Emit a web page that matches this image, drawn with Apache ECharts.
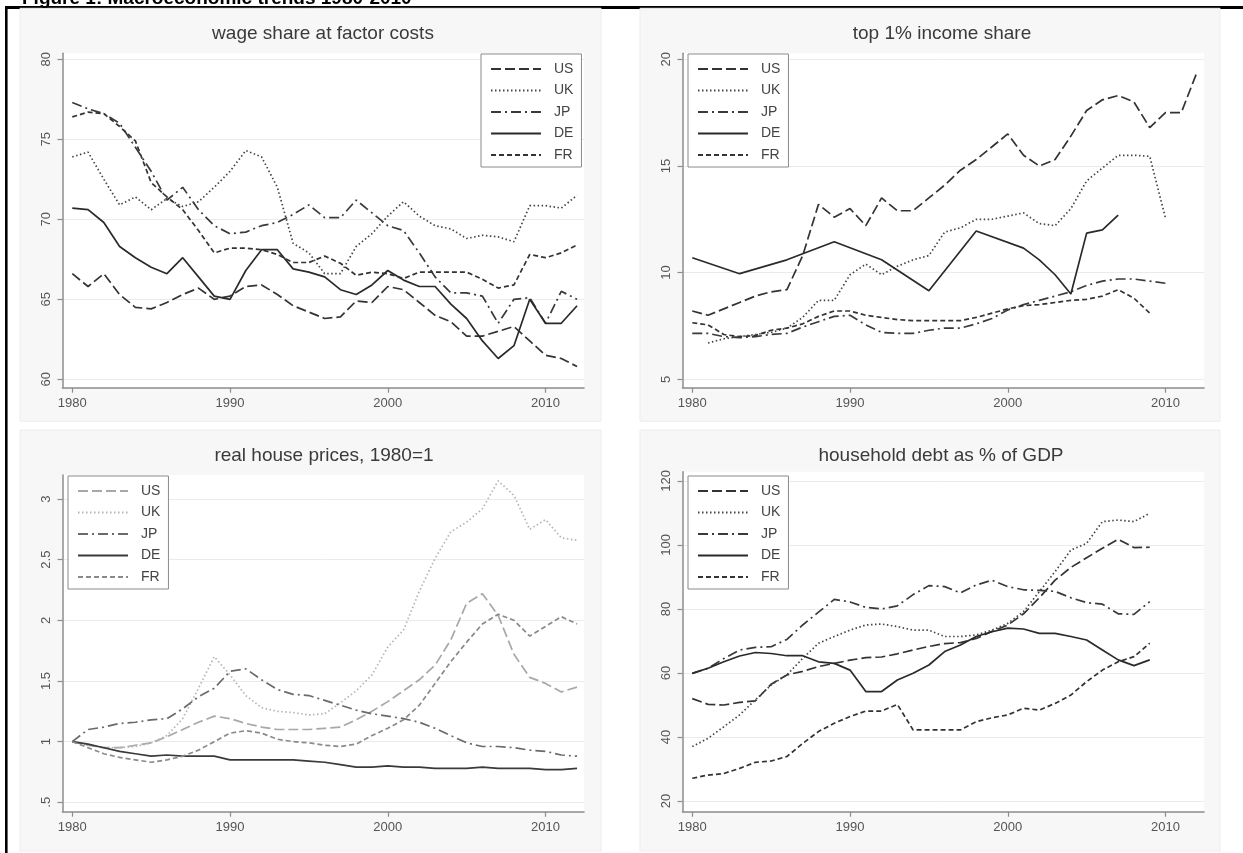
<!DOCTYPE html>
<html>
<head>
<meta charset="utf-8">
<script src="https://cdn.jsdelivr.net/npm/echarts@6/dist/echarts.min.js"></script>
<style>
html,body{margin:0;padding:0;background:#ffffff;}
#c{width:1243px;height:853px;}
</style>
</head>
<body>
<div id="c"></div>
<script>
// ---------------- data ----------------
const years = [1980,1981,1982,1983,1984,1985,1986,1987,1988,1989,1990,1991,1992,1993,1994,1995,1996,1997,1998,1999,2000,2001,2002,2003,2004,2005,2006,2007,2008,2009,2010,2011,2012];
const countries = ['US','UK','JP','DE','FR'];
const xTicks = [1980,1990,2000,2010];

// wage share at factor costs
const wageUS = [66.6,65.8,66.6,65.3,64.5,64.4,64.8,65.3,65.7,65.0,65.2,65.8,65.9,65.3,64.6,64.2,63.8,63.9,64.9,64.8,65.8,65.6,64.8,64.0,63.6,62.7,62.7,63.0,63.3,62.4,61.5,61.3,60.8];
const wageUK = [73.9,74.2,72.5,70.9,71.4,70.6,71.3,70.8,71.1,72.0,73.0,74.3,73.9,72.0,68.5,67.9,66.6,66.6,68.3,69.1,70.2,71.1,70.2,69.6,69.4,68.8,69.0,68.9,68.6,70.85,70.85,70.7,71.5];
const wageJP = [77.3,76.9,76.6,76.0,74.5,73.0,71.2,72.0,70.6,69.6,69.1,69.2,69.6,69.8,70.3,70.9,70.1,70.1,71.2,70.4,69.6,69.3,67.9,66.4,65.4,65.4,65.2,63.5,65.0,65.1,63.5,65.5,65.0];
const wageDE = [70.7,70.6,69.8,68.3,67.6,67.0,66.6,67.6,66.4,65.2,65.0,66.8,68.1,68.1,66.9,66.7,66.4,65.6,65.3,65.9,66.8,66.2,65.8,65.8,64.7,63.8,62.4,61.3,62.1,65.0,63.5,63.5,64.6];
const wageFR = [76.4,76.7,76.6,75.8,74.9,72.3,71.4,70.6,69.3,67.9,68.2,68.2,68.1,67.8,67.3,67.3,67.7,67.25,66.5,66.7,66.6,66.3,66.7,66.7,66.7,66.7,66.25,65.7,65.9,67.8,67.6,67.9,68.4];
const wageTicks = [60,65,70,75,80];

// top 1% income share
const topUS = [8.2,8.0,8.3,8.6,8.9,9.1,9.2,10.8,13.2,12.6,13.0,12.2,13.5,12.9,12.9,13.5,14.1,14.8,15.3,15.9,16.5,15.5,15.0,15.3,16.4,17.6,18.1,18.3,18.0,16.8,17.5,17.5,19.4];
const topUK = [null,6.7,6.9,7.0,7.1,7.2,7.4,7.9,8.7,8.7,9.9,10.4,9.9,10.3,10.6,10.8,11.9,12.1,12.5,12.5,12.65,12.8,12.3,12.2,13.0,14.3,14.9,15.5,15.5,15.45,12.55,null,null];
const topJP = [7.15,7.15,7.0,6.95,7.0,7.1,7.15,7.45,7.7,7.95,8.0,7.55,7.2,7.15,7.15,7.3,7.4,7.4,7.6,7.85,8.25,8.5,8.7,8.9,9.1,9.4,9.6,9.7,9.7,9.6,9.5,null,null];
const topDE = [10.7,null,null,9.95,null,null,10.6,null,null,11.45,null,null,10.6,null,null,9.15,null,null,11.95,null,null,11.15,10.6,9.9,9.0,11.85,12.0,12.7,null,null,null,null,null];
const topFR = [7.65,7.55,7.1,7.0,7.05,7.3,7.4,7.6,7.95,8.2,8.2,8.0,7.9,7.8,7.75,7.75,7.75,7.75,7.9,8.1,8.3,8.45,8.5,8.6,8.7,8.75,8.9,9.2,8.8,8.1,null,null,null];
const topTicks = [5,10,15,20];

// real house prices, 1980=1
const hpUS = [1.0,0.97,0.95,0.95,0.97,0.99,1.04,1.10,1.16,1.21,1.19,1.15,1.12,1.10,1.10,1.10,1.11,1.12,1.18,1.25,1.33,1.42,1.51,1.63,1.84,2.14,2.22,2.04,1.72,1.53,1.48,1.41,1.45];
const hpUK = [1.0,0.97,0.95,0.95,0.96,0.99,1.05,1.19,1.44,1.70,1.55,1.38,1.28,1.25,1.24,1.22,1.23,1.32,1.42,1.55,1.78,1.92,2.24,2.51,2.73,2.81,2.92,3.15,3.03,2.75,2.83,2.68,2.66];
const hpJP = [1.0,1.10,1.12,1.15,1.16,1.18,1.19,1.27,1.37,1.44,1.58,1.60,1.51,1.43,1.39,1.38,1.34,1.30,1.26,1.23,1.21,1.19,1.16,1.11,1.05,0.99,0.96,0.96,0.95,0.93,0.92,0.89,0.88];
const hpDE = [1.0,0.98,0.95,0.92,0.90,0.88,0.89,0.88,0.88,0.88,0.85,0.85,0.85,0.85,0.85,0.84,0.83,0.81,0.79,0.79,0.80,0.79,0.79,0.78,0.78,0.78,0.79,0.78,0.78,0.78,0.77,0.77,0.78];
const hpFR = [1.0,0.95,0.90,0.87,0.85,0.83,0.85,0.88,0.93,1.0,1.07,1.09,1.07,1.02,1.00,0.99,0.97,0.96,0.98,1.05,1.11,1.18,1.30,1.48,1.66,1.82,1.97,2.05,2.00,1.87,1.95,2.03,1.97];
const hpTicks = [0.5,1,1.5,2,2.5,3];

// household debt as % of GDP
const hdUS = [52,50.2,50,50.8,51.3,56.5,59.4,60.5,62,63,64,64.8,65,66,67.2,68.3,69.2,69.5,70.8,73,75,78.5,83.5,89,93,96,99,101.8,99.2,99.3,null,null,null];
const hdUK = [37,39.6,43.2,46.9,51.6,56.3,59.4,64.6,69.3,71.4,73.4,75,75.3,74.5,73.4,73.4,71.4,71.4,71.9,73.4,75.5,79.2,85.4,91.7,98.4,100.5,107.3,107.8,107.3,109.9,null,null,null];
const hdJP = [59.9,61.5,64.5,67.2,68,68.2,70.5,75,79,83,82.2,80.5,80,81,84.5,87.3,87,85,87.5,89,87,86,85.8,85.5,83.5,82,81.5,78.5,78.3,82.3,null,null,null];
const hdDE = [59.9,61.5,63.5,65.3,66.4,66.1,65.4,65.4,63.5,63,60.9,54.2,54.2,57.8,59.9,62.5,66.7,68.75,71.4,72.9,74,73.75,72.4,72.4,71.4,70.3,67.2,64.1,62.3,64.1,null,null,null];
const hdFR = [27.1,28.1,28.6,30.2,32.1,32.5,33.9,38,41.7,44.3,46.4,48.1,48.1,50.2,42.2,42.2,42.2,42.2,44.8,46,46.9,49,48.4,50.5,53.1,57.3,60.9,63.5,65.1,69.3,null,null,null];
const hdTicks = [20,40,60,80,100,120];

const titles = ['wage share at factor costs','top 1% income share','real house prices, 1980=1','household debt as % of GDP'];
const figureTitle = 'Figure 1: Macroeconomic trends 1980-2010';

// ---------------- styling / layout ----------------
const FONT = 'Liberation Sans, Arial, sans-serif';
const dashes = {US:[10,4], UK:[1.5,2.5], JP:[10,4,2,4], DE:'solid', FR:[5,3]};
const darkColors = {US:'#333333', UK:'#444444', JP:'#3a3a3a', DE:'#2a2a2a', FR:'#333333'};
const lightColors = {US:'#a8a8a8', UK:'#b4b4b4', JP:'#6a6a6a', DE:'#3a3a3a', FR:'#8a8a8a'};

const panels = [
  {key:'a', values:{US:wageUS,UK:wageUK,JP:wageJP,DE:wageDE,FR:wageFR}, ticks:wageTicks, colors:darkColors,
   grid:{left:62.5, top:53.3, width:521.5, height:334.4}, ymin:59.475, ymax:80.375, tx:323, ty:35, lg:{left:481, top:54}},
  {key:'b', values:{US:topUS,UK:topUK,JP:topJP,DE:topDE,FR:topFR}, ticks:topTicks, colors:darkColors,
   grid:{left:682.5, top:53.3, width:521.5, height:334.4}, ymin:4.606, ymax:20.28, tx:942, ty:35, lg:{left:688, top:54}},
  {key:'c', values:{US:hpUS,UK:hpUK,JP:hpJP,DE:hpDE,FR:hpFR}, ticks:hpTicks, colors:lightColors,
   grid:{left:62.5, top:475, width:521.5, height:336.7}, ymin:0.4225, ymax:3.198, tx:324, ty:457, lg:{left:68, top:476}},
  {key:'d', values:{US:hdUS,UK:hdUK,JP:hdJP,DE:hdDE,FR:hdFR}, ticks:hdTicks, colors:darkColors,
   grid:{left:682.5, top:471.7, width:521.5, height:340}, ymin:16.66, ymax:122.9, tx:941, ty:457, lg:{left:688, top:476}}
];

const fmtY = v => (v > 0 && v < 1) ? String(v).replace(/^0/, '') : String(v);

const option = {
  animation:false,
  backgroundColor:'#ffffff',
  title:[], grid:[], xAxis:[], yAxis:[], legend:[], series:[],
  graphic:[
    {type:'text', x:22, y:8.5, z:1, style:{text:figureTitle, font:'bold 19px ' + FONT, fill:'#000', verticalAlign:'bottom', align:'left'}},
    {type:'rect', shape:{x:20, y:8.3, width:581, height:413}, z:-10, style:{fill:'#f7f7f7', stroke:'#ededed', lineWidth:1}},
    {type:'rect', shape:{x:640, y:8.3, width:580, height:413}, z:-10, style:{fill:'#f7f7f7', stroke:'#ededed', lineWidth:1}},
    {type:'rect', shape:{x:20, y:430, width:581, height:421}, z:-10, style:{fill:'#f7f7f7', stroke:'#ededed', lineWidth:1}},
    {type:'rect', shape:{x:640, y:430, width:580, height:421}, z:-10, style:{fill:'#f7f7f7', stroke:'#ededed', lineWidth:1}},
    {type:'rect', shape:{x:5, y:6, width:1238, height:3}, z:-20, style:{fill:'#000'}},
    {type:'rect', shape:{x:5, y:6, width:2.6, height:847}, z:5, style:{fill:'#000'}}
  ]
};

panels.forEach((p, i) => {
  option.title.push({text:titles[i], left:p.tx, top:p.ty - 11, textAlign:'center', padding:0,
    textStyle:{fontFamily:FONT, fontSize:19, fontWeight:'normal', color:'#3a3a3a'}});
  option.grid.push(Object.assign({show:true, backgroundColor:'#ffffff', borderWidth:0}, p.grid));
  option.xAxis.push({type:'value', gridIndex:i, min:1979.38, max:2012.44,
    axisLine:{show:true, onZero:false, lineStyle:{color:'#8c8c8c', width:1.5}},
    axisTick:{show:true, length:5, customValues:xTicks, lineStyle:{color:'#8c8c8c', width:1.2}},
    axisLabel:{customValues:xTicks, formatter:v => String(v), color:'#555', fontFamily:FONT, fontSize:13, margin:9},
    splitLine:{show:false}});
  option.yAxis.push({type:'value', gridIndex:i, min:p.ymin, max:p.ymax,
    axisLine:{show:true, onZero:false, lineStyle:{color:'#8c8c8c', width:1.5}},
    axisTick:{show:true, length:5, customValues:p.ticks, lineStyle:{color:'#8c8c8c', width:1.2}},
    axisLabel:{customValues:p.ticks, formatter:fmtY, rotate:90, color:'#555', fontFamily:FONT, fontSize:13, margin:10},
    splitLine:{show:true, lineStyle:{color:'#ebebeb', width:1}}});
  option.legend.push({show:true, orient:'vertical', left:p.lg.left, top:p.lg.top,
    data:countries.map(c => p.key + ':' + c),
    formatter:n => n.split(':')[1],
    itemWidth:50, itemHeight:12, itemGap:7.5, padding:[8,8,5,9],
    itemStyle:{opacity:0, borderWidth:0},
    borderColor:'#8a8a8a', borderWidth:1, backgroundColor:'#ffffff', selectedMode:false,
    textStyle:{fontFamily:FONT, fontSize:14, color:'#444', padding:[0,0,0,8]}});
  countries.forEach(c => {
    const vals = p.values[c];
    option.series.push({
      name:p.key + ':' + c, type:'line', xAxisIndex:i, yAxisIndex:i,
      data:years.map((y, k) => [y, vals[k]]),
      connectNulls:true, symbol:'none', symbolSize:0, showSymbol:false, silent:true,
      lineStyle:{color:p.colors[c], width:1.7, type:dashes[c]},
      itemStyle:{color:p.colors[c]}
    });
  });
});

const chart = echarts.init(document.getElementById('c'), null, {width:1243, height:853});
chart.setOption(option);
</script>
</body>
</html>
